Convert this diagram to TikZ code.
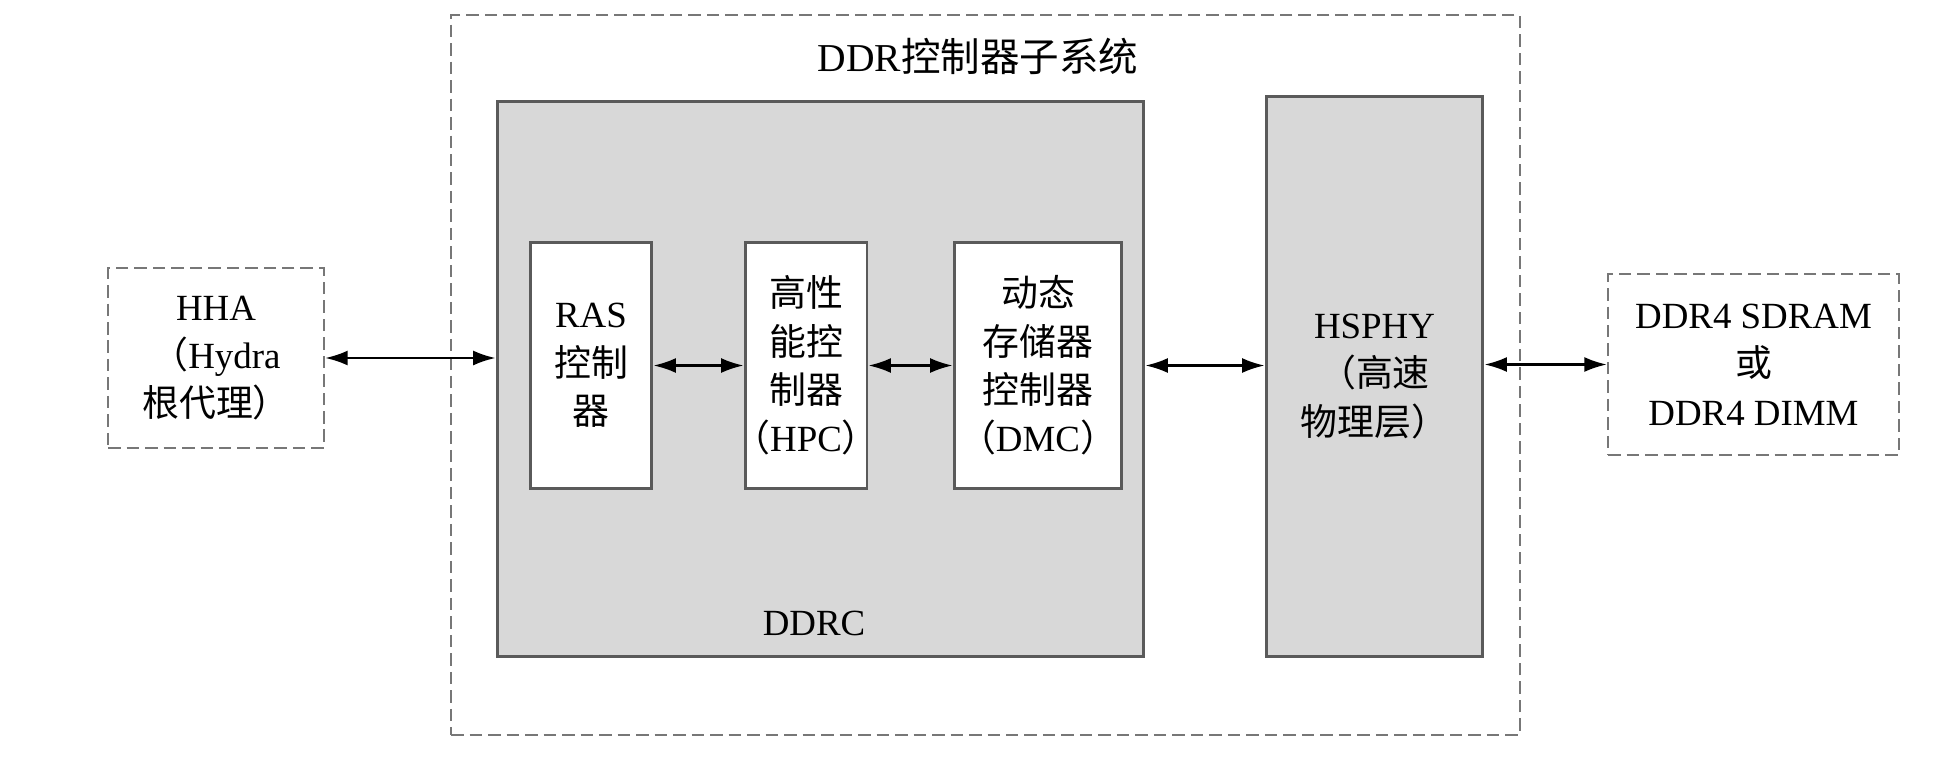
\documentclass[tikz,border=0pt]{standalone}
\usepackage{fontspec}
\setmainfont{Liberation Serif}
\newfontfamily\cjk{Noto Sans CJK SC}
\newcommand{\zh}[1]{{\cjk #1}}
\usetikzlibrary{arrows.meta}
\definecolor{boxgray}{HTML}{D8D8D8}
\definecolor{edgegray}{HTML}{5A5A5A}
\definecolor{dashgray}{HTML}{777777}

\begin{document}
\begin{tikzpicture}[x=0.02cm,y=-0.02cm,
    every node/.style={font=\fontsize{21}{27.5}\selectfont, align=center, inner sep=0pt},
    dashbox/.style={draw=dashgray, line width=0.05cm, dash pattern=on 0.25cm off 0.12cm},
    graybox/.style={draw=edgegray, fill=boxgray, line width=0.06cm},
    whitebox/.style={draw=edgegray, fill=white, line width=0.06cm, minimum height=4.94cm},
    link/.style={{Latex[length=0.45cm,width=0.3cm]}-{Latex[length=0.45cm,width=0.3cm]}, line width=0.045cm}]
  \useasboundingbox (0,0) rectangle (1933,758);
  % subsystem frame
  \node[dashbox, minimum width=21.38cm, minimum height=14.4cm] (sub) at (985.5,375) {};
  \node[font=\fontsize{22.5}{28}\selectfont] (subtitle) at (978,56) {DDR\zh{控制器子系统}};
  \node[graybox, minimum width=12.94cm, minimum height=11.12cm] (ddrc) at (820.5,379) {};
  \node (ddrclabel) at (814,623) {DDRC};
  \node[graybox, minimum width=4.34cm, minimum height=11.22cm] (hsphy) at (1374.5,376.5) {HSPHY\\\zh{（高速}\\\zh{物理层）}};
  % controllers inside DDRC
  \node[whitebox, minimum width=2.44cm] (ras) at (591,365.5) {RAS\\\zh{控制}\\\zh{器}};
  \node[whitebox, minimum width=2.44cm] (hpc) at (806,365.5) {\zh{高性}\\\zh{能控}\\\zh{制器}\\\makebox[2cm]{\zh{（}HPC\zh{）}}};
  \node[whitebox, minimum width=3.36cm] (dmc) at (1038,365.5) {\zh{动态}\\\zh{存储器}\\\zh{控制器}\\\zh{（}DMC\zh{）}};
  % outside blocks
  \node[dashbox, minimum width=4.32cm, minimum height=3.6cm] (hha) at (216,358) {HHA\\\zh{（}Hydra\\\zh{根代理）}};
  \node[dashbox, minimum width=5.82cm, minimum height=3.62cm] (dram) at (1753.5,364.5) {DDR4 SDRAM\\\zh{或}\\DDR4 DIMM};
  % links
  \draw[link] (hha.east) -- (hha.east -| ddrc.west);
  \foreach \a/\b in {ras/hpc,hpc/dmc} \draw[link] (\a) -- (\b);
  \draw[link] (ddrc.east |- dmc.east) -- (hsphy.west |- dmc.east);
  \draw[link] (hsphy.east |- dram.west) -- (dram.west);
\end{tikzpicture}
\end{document}
